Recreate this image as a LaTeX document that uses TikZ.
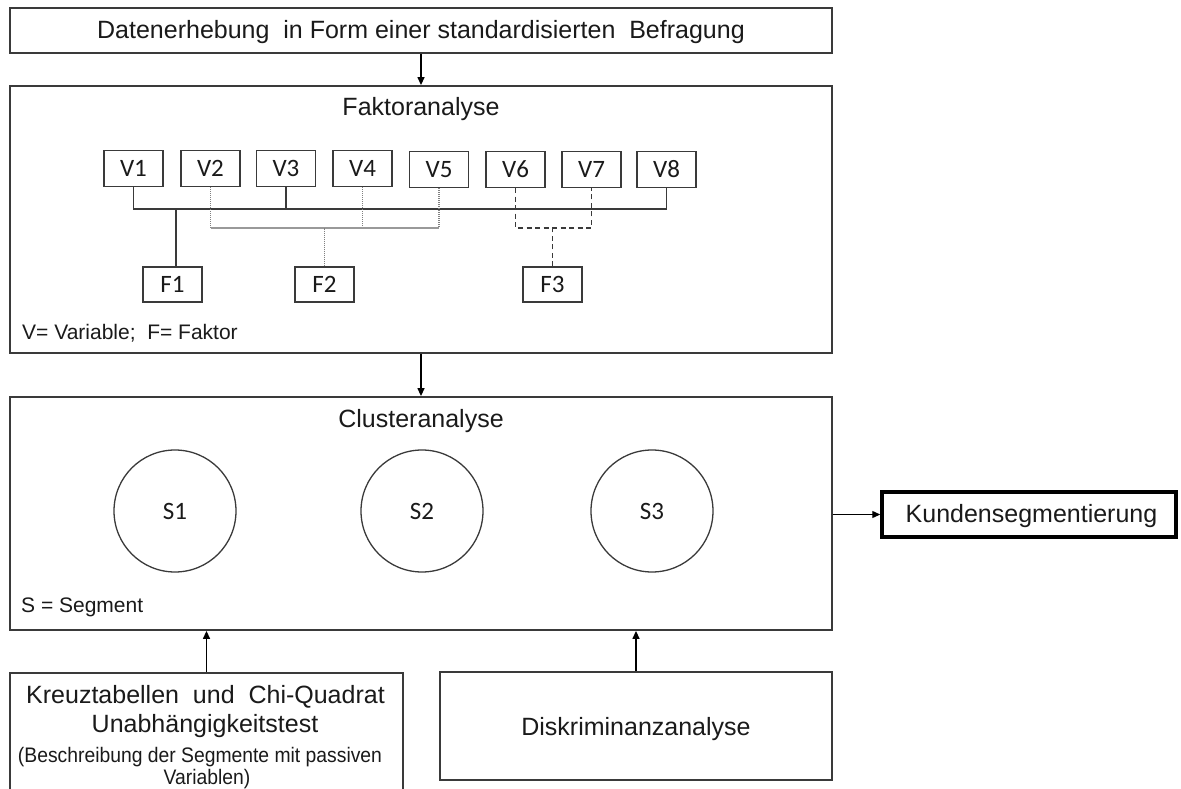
\documentclass[tikz,border=0pt]{standalone}
\usepackage{fontspec}
\setmainfont{Liberation Sans}
\newfontfamily\calib{Carlito}
\newfontfamily\narrowsans{Liberation Sans}[FakeStretch=0.92]
\usetikzlibrary{arrows.meta}
\definecolor{boxc}{HTML}{3A3A3A}
\definecolor{txt}{HTML}{1A1A1A}
\begin{document}
\begin{tikzpicture}[x=1pt,y=-1pt,
  bigbox/.style={draw=boxc, line width=1.8pt, inner sep=0pt},
  vbox/.style={draw=boxc, line width=1.4pt, inner sep=0pt, minimum width=59pt, minimum height=36pt,
     font=\calib\fontsize{25}{29}\selectfont, text=txt},
  segc/.style={draw=boxc, line width=1.3pt, circle, minimum size=122pt, inner sep=0pt,
     font=\calib\fontsize{25}{29}\selectfont, text=txt},
  bigtxt/.style={font=\fontsize{25}{30}\selectfont, text=txt, inner sep=0pt},
  midtxt/.style={font=\fontsize{21}{25}\selectfont, text=txt, inner sep=0pt},
  smalltxt/.style={font=\narrowsans\fontsize{21}{24}\selectfont, text=txt, inner sep=0pt},
  arr/.style={draw=black, line width=1.3pt, -{Triangle[length=8pt,width=7pt]}},
  solidc/.style={draw=boxc, line width=1.4pt},
  dotc/.style={draw=gray, line width=1.1pt, dash pattern=on 1pt off 1pt},
  dashc/.style={draw=boxc, line width=1.4pt, dash pattern=on 5pt off 3.5pt}
]
\useasboundingbox (0,0) rectangle (1181,789);
\clip (0,0) rectangle (1181,789);
\fill[white] (0,0) rectangle (1181,789);

% main boxes
\node[bigbox, minimum width=822pt, minimum height=45pt] (top) at (421,30.5) {};
\node[bigbox, minimum width=822pt, minimum height=267pt] (fak) at (421,219.5) {};
\node[bigbox, minimum width=822pt, minimum height=233pt] (clu) at (421,513.5) {};
\node[draw=black, line width=3.5pt, inner sep=0pt, minimum width=294pt, minimum height=45pt] (kun) at (1029,514.5) {};
\node[bigbox, minimum width=393pt, minimum height=124pt] (kreuz) at (206.5,735) {};
\node[bigbox, minimum width=392pt, minimum height=108pt] (disk) at (636,726) {};

% texts of the boxes
\node[bigtxt, anchor=base] (ttop) at (421,39) {Datenerhebung\ \ in Form einer standardisierten\ \ Befragung};
\node[bigtxt, anchor=base] (tfak) at (421,116) {Faktoranalyse};
\node[bigtxt, anchor=base] (tclu) at (421,427) {Clusteranalyse};
\node[bigtxt, anchor=base] (tkun) at (1031.5,522.7) {Kundensegmentierung};
\node[midtxt, anchor=base west] (lvf) at (22,339) {V= Variable;\ \ F= Faktor};
\node[midtxt, anchor=base west] (lseg) at (21,612) {S = Segment};
\node[bigtxt, anchor=base] (tk1) at (205.5,703) {Kreuztabellen\ \ und\ \ Chi-Quadrat};
\node[bigtxt, anchor=base] (tk2) at (205,732) {Unabhängigkeitstest};
\node[smalltxt, anchor=base] (tk3) at (200,762) {(Beschreibung der Segmente mit passiven};
\node[smalltxt, anchor=base] (tk4) at (207,784) {Variablen)};
\node[bigtxt, anchor=base] (tdisk) at (636,735) {Diskriminanzanalyse};

% variables
\node[vbox] (V1) at (133.5,168.5) {V1};
\node[vbox] (V2) at (210.5,168.5) {V2};
\node[vbox] (V3) at (286,168.5) {V3};
\node[vbox] (V4) at (362.5,168.5) {V4};
\node[vbox] (V5) at (439,169.5) {V5};
\node[vbox] (V6) at (515.5,169.5) {V6};
\node[vbox] (V7) at (591.5,169.5) {V7};
\node[vbox] (V8) at (666.5,169.5) {V8};

% factors
\node[vbox, minimum height=35pt] (F1) at (172.5,284.5) {F1};
\node[vbox, minimum height=35pt] (F2) at (324.5,284.5) {F2};
\node[vbox, minimum height=35pt] (F3) at (552.5,284.5) {F3};

% segments
\node[segc] (S1) at (175,511) {S1};
\node[segc] (S2) at (422,511) {S2};
\node[segc] (S3) at (652,511) {S3};

% tree coordinates
\coordinate (hs) at (0,209);
\coordinate (hd) at (0,228);

% F1 (solid)
\draw[solidc] (V1.south) -- (V1.south |- hs) -- (V8.south |- hs) -- (V8.south);
\draw[solidc] (V3.south) -- (V3.south |- hs);
\draw[solidc] ([xshift=3.5pt]F1.north) -- ([xshift=3.5pt]F1.north |- hs);

% F2 (dotted)
\draw[dotc] (V2.south) -- (V2.south |- hd);
\draw[dotc] (V4.south) -- (V4.south |- hd);
\draw[dotc] (V5.south) -- (V5.south |- hd);
\draw[draw=gray!80, line width=1.2pt] (V2.south |- hd) -- (V5.south |- hd);
\draw[dotc] (F2.north) -- (F2.north |- hd);

% F3 (dashed)
\draw[dashc] (V6.south) -- (V6.south |- hd) -- (V7.south |- hd) -- (V7.south);
\draw[dashc] (F3.north) -- (F3.north |- hd);

% arrows
\draw[arr] (top.south) -- (fak.north);
\draw[arr] (fak.south) -- (clu.north);
\draw[arr] (kun.west -| clu.east) -- (kun.west);
\draw[arr] (kreuz.north) -- (kreuz.north |- clu.south);
\draw[arr] (disk.north) -- (disk.north |- clu.south);
\end{tikzpicture}
\end{document}
